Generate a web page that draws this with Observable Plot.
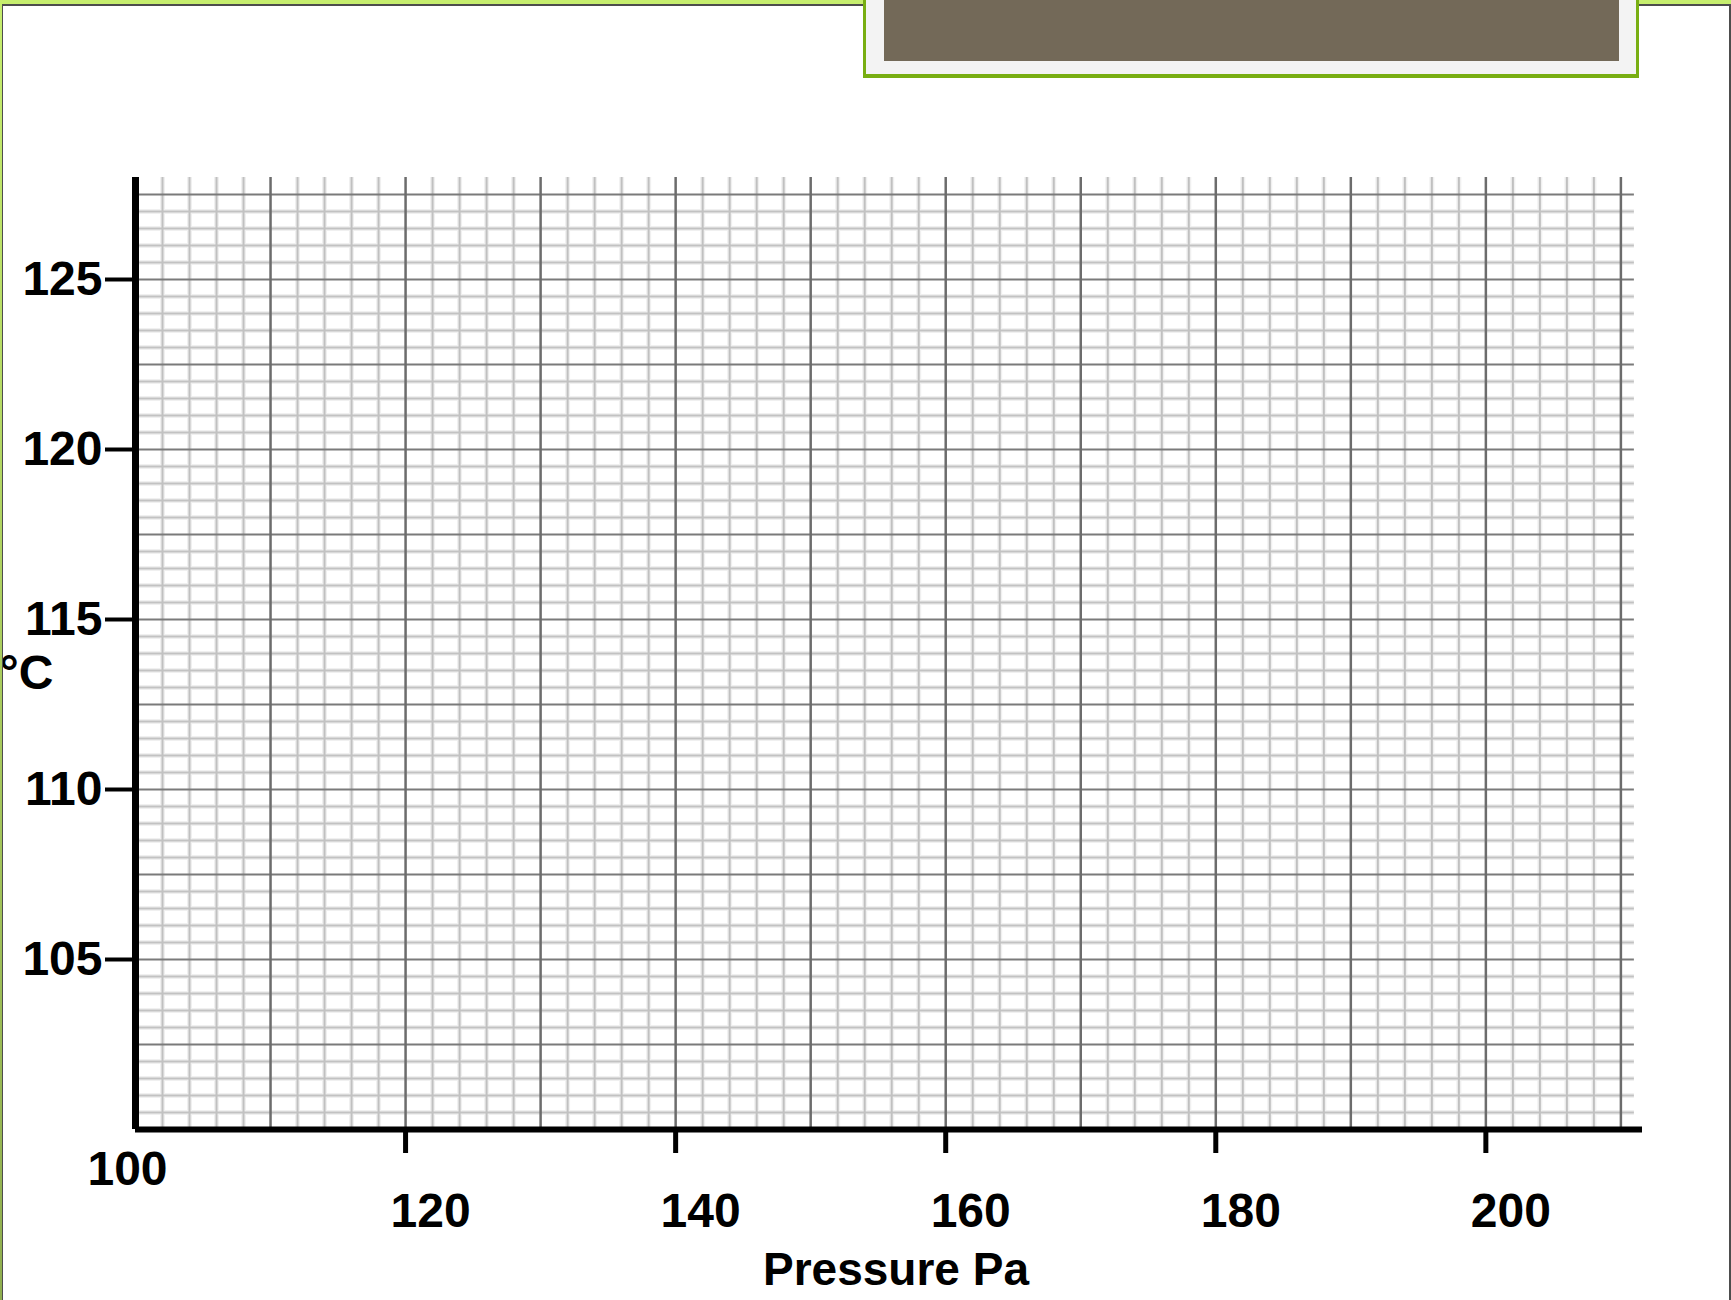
<!DOCTYPE html>
<html>
<head>
<meta charset="utf-8">
<script src="https://cdn.jsdelivr.net/npm/d3@7"></script>
<script src="https://cdn.jsdelivr.net/npm/@observablehq/plot@0.6"></script>
<style>
  html, body { margin: 0; padding: 0; background: #ffffff; overflow: hidden; }
  #page { position: relative; width: 1731px; height: 1300px; background: #ffffff; overflow: hidden; }
  #chart { position: absolute; left: 0; top: 0; }
  .deco { position: absolute; }
</style>
</head>
<body>
<div id="page">
  <div id="chart"></div>
  <!-- slide frame decorations -->
  <div class="deco" style="left:0;top:0;width:1731px;height:4px;background:#c6ee6e;"></div>
  <div class="deco" style="left:0;top:4px;width:1731px;height:2px;background:#4d4d4d;"></div>
  <div class="deco" style="left:0;top:0;width:2px;height:1300px;background:linear-gradient(#c6ee6e,#8fae4f);"></div>
  <div class="deco" style="left:2px;top:4px;width:1px;height:1296px;background:#4d4d4d;"></div>
  <div class="deco" style="left:1729px;top:4px;width:2px;height:1296px;background:#4d4d4d;"></div>
  <div class="deco" style="left:863px;top:0;width:770px;height:74px;background:#f3f3f3;border-left:3px solid #78ae12;border-right:3px solid #78ae12;border-bottom:4px solid #78ae12;"></div>
  <div class="deco" style="left:884px;top:0;width:735px;height:61px;background:#736958;"></div>
</div>
<script>
// ---- chart content ----
const xTicks = [120, 140, 160, 180, 200];
const xCornerTick = [100];
const yTicks = [105, 110, 115, 120, 125];
const xLabel = "Pressure Pa";
const yLabel = "°C";
const xDomain = [100, 211.6];
const yDomain = [100, 128];
const gridRight = 211;

// graph-paper rulings (minor every 2 Pa / 0.5 °C, major every 10 Pa / 2.5 °C)
const majorX = d3.range(110, 211, 10);
const minorX = d3.range(102, 211, 2).filter(v => v % 10 !== 0);
const majorY = d3.range(102.5, 128, 2.5);
const minorY = d3.range(100.5, 128, 0.5).filter(v => Math.abs(v / 2.5 - Math.round(v / 2.5)) > 1e-9);

const font = '"Liberation Sans", Arial, sans-serif';

const chart = Plot.plot({
  width: 1731,
  height: 1300,
  marginLeft: 135,
  marginRight: 89,
  marginTop: 177,
  marginBottom: 171,
  x: { domain: xDomain, axis: null },
  y: { domain: yDomain, axis: null },
  style: { fontFamily: font, background: "transparent", color: "#000", overflow: "visible" },
  marks: [
    // faint halos of the scanned paper lines
    Plot.ruleX(minorX, { x: d => d, stroke: "#f0f0f0", strokeWidth: 5 }),
    Plot.ruleY(minorY, { y: d => d, stroke: "#f0f0f0", strokeWidth: 5, x1: xDomain[0], x2: gridRight }),
    // minor rulings
    Plot.ruleX(minorX, { x: d => d, stroke: "#c0c0c0", strokeWidth: 2 }),
    Plot.ruleY(minorY, { y: d => d, stroke: "#c2c2c2", strokeWidth: 2, x1: xDomain[0], x2: gridRight }),
    // major rulings
    Plot.ruleY(majorY, { y: d => d, stroke: "#7a7a7a", strokeWidth: 2.2, x1: xDomain[0], x2: gridRight }),
    Plot.ruleX(majorX, { x: d => d, stroke: "#6c6c6c", strokeWidth: 2.5 }),
    // axes lines
    Plot.ruleY([yDomain[0]], { y: d => d, stroke: "#000", strokeWidth: 6 }),
    Plot.ruleX([xDomain[0]], { x: d => d, stroke: "#000", strokeWidth: 7 }),
    // y axis ticks & labels
    Plot.axisY({
      ticks: yTicks,
      tickSize: 30,
      tickPadding: 3,
      stroke: "#000",
      strokeWidth: 4,
      fill: "#000",
      fontSize: 48,
      fontWeight: "bold",
      tickFormat: d => String(d),
      label: null
    }),
    // x axis ticks (labels drawn separately, offset like the original)
    Plot.axisX({
      ticks: xTicks,
      tickSize: 24,
      stroke: "#000",
      strokeWidth: 5,
      tickFormat: () => "",
      label: null
    }),
    Plot.text(xTicks, {
      x: d => d, text: d => String(d),
      frameAnchor: "bottom", lineAnchor: "top",
      dx: 25, dy: 63,
      fontSize: 48, fontWeight: "bold", fill: "#000"
    }),
    Plot.text(xCornerTick, {
      x: d => d, text: d => String(d),
      frameAnchor: "bottom", lineAnchor: "top",
      dx: -8, dy: 21,
      fontSize: 48, fontWeight: "bold", fill: "#000"
    }),
    // axis titles
    Plot.text([xLabel], {
      text: d => d,
      frameAnchor: "bottom", lineAnchor: "top",
      dx: 7, dy: 123,
      fontSize: 46, fontWeight: "bold", fill: "#000"
    }),
    Plot.text([yLabel], {
      text: d => d,
      frameAnchor: "left", textAnchor: "start",
      dx: -136, dy: 20,
      fontSize: 48, fontWeight: "bold", fill: "#000"
    })
  ]
});

document.getElementById("chart").appendChild(chart);
</script>
</body>
</html>
